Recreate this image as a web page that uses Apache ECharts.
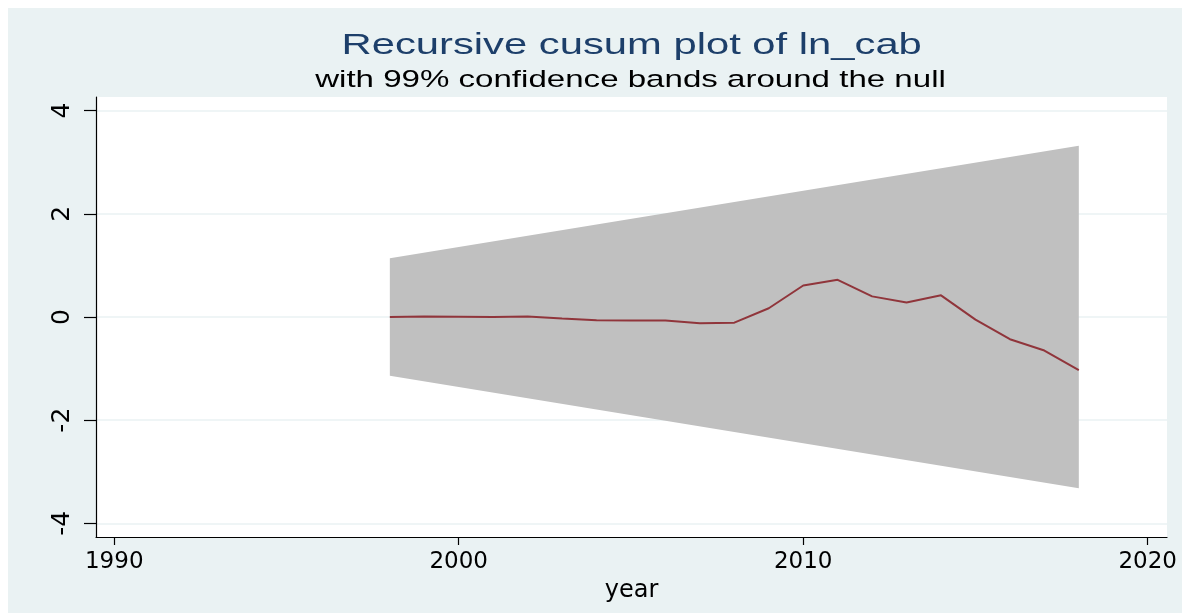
<!DOCTYPE html>
<html>
<head>
<meta charset="utf-8">
<script src="https://cdn.jsdelivr.net/npm/echarts@6/dist/echarts.min.js"></script>
<style>
  html, body { margin: 0; padding: 0; background: #ffffff; }
  #chart { width: 1182px; height: 613px; }
</style>
</head>
<body>
<div id="chart"></div>
<script>
// Recursive CUSUM of ln_cab, 1998-2018
const years = [1998, 1999, 2000, 2001, 2002, 2003, 2004, 2005, 2006, 2007, 2008,
               2009, 2010, 2011, 2012, 2013, 2014, 2015, 2016, 2017, 2018];
const cusum = [0.00, 0.01, 0.005, 0.00, 0.01, -0.03, -0.065, -0.07, -0.07, -0.12, -0.11,
               0.17, 0.61, 0.72, 0.40, 0.28, 0.42, -0.05, -0.43, -0.65, -1.03];

// 99% confidence band around the null (linear in time)
const bandYears = [1998, 2018];
const bandUpper = [1.14, 3.32];
const bandLower = [-1.14, -3.32];

// Tick labels
const xTicks = [1990, 2000, 2010, 2020];
const yTicks = [-4, -2, 0, 2, 4];

const BG = '#EAF2F3';
const chart = echarts.init(document.getElementById('chart'), null, { renderer: 'canvas' });

chart.setOption({
  animation: false,
  backgroundColor: '#ffffff',
  graphic: [
    {
      type: 'rect', z: -100, silent: true,
      shape: { x: 8, y: 8, width: 1174, height: 605 },
      style: { fill: BG }
    },
    {
      type: 'text', x: 631.7, y: 46, scaleX: 1.44, silent: true,
      style: {
        text: 'Recursive cusum plot of ln_cab',
        font: '29px "Liberation Sans", Arial, sans-serif',
        fill: '#1D3F6A', textAlign: 'center', textVerticalAlign: 'middle', verticalAlign: 'middle'
      }
    },
    {
      type: 'text', x: 630.5, y: 80, scaleX: 1.35, silent: true,
      style: {
        text: 'with 99% confidence bands around the null',
        font: '24.5px "Liberation Sans", Arial, sans-serif',
        fill: '#000000', textAlign: 'center', textVerticalAlign: 'middle', verticalAlign: 'middle'
      }
    }
  ],
  grid: {
    show: true, backgroundColor: '#ffffff', borderWidth: 0,
    left: 96, right: 15, top: 97, bottom: 76
  },
  xAxis: {
    type: 'value',
    min: 1989.47, max: 2020.56,
    name: 'year', nameLocation: 'middle', nameGap: 27,
    nameTextStyle: { fontFamily: 'DejaVu Sans', fontSize: 24, color: '#000' },
    axisLine: { show: true, onZero: false, lineStyle: { color: '#000', width: 1.2 } },
    axisTick: { show: true, length: 8, customValues: xTicks, lineStyle: { color: '#000', width: 1.2 } },
    axisLabel: {
      customValues: xTicks, margin: 14, fontFamily: 'DejaVu Sans', fontSize: 23, color: '#000',
      formatter: v => String(Math.round(v))
    },
    splitLine: { show: false }
  },
  yAxis: {
    type: 'value',
    min: -4.265, max: 4.265,
    axisLine: { show: true, onZero: false, lineStyle: { color: '#000', width: 1.2 } },
    axisTick: { show: true, length: 12, customValues: yTicks, lineStyle: { color: '#000', width: 1.2 } },
    axisLabel: {
      customValues: yTicks, rotate: 90, margin: 21, fontFamily: 'DejaVu Sans', fontSize: 25, color: '#000',
      formatter: v => String(Math.round(v))
    },
    splitLine: { show: true, lineStyle: { color: BG, width: 1.5 } }
  },
  series: [
    {
      type: 'custom',
      silent: true,
      z: 1,
      data: [[bandYears[0], bandUpper[0]]],
      encode: { x: 0, y: 1 },
      renderItem: function (params, api) {
        const pts = bandYears.map((y, i) => api.coord([y, bandUpper[i]]));
        for (let i = bandYears.length - 1; i >= 0; i--) {
          pts.push(api.coord([bandYears[i], bandLower[i]]));
        }
        return { type: 'polygon', shape: { points: pts }, style: { fill: '#C0C0C0' } };
      }
    },
    {
      type: 'line',
      z: 3,
      showSymbol: false,
      data: years.map((y, i) => [y, cusum[i]]),
      lineStyle: { color: '#90353B', width: 2 }
    }
  ]
});
</script>
</body>
</html>
